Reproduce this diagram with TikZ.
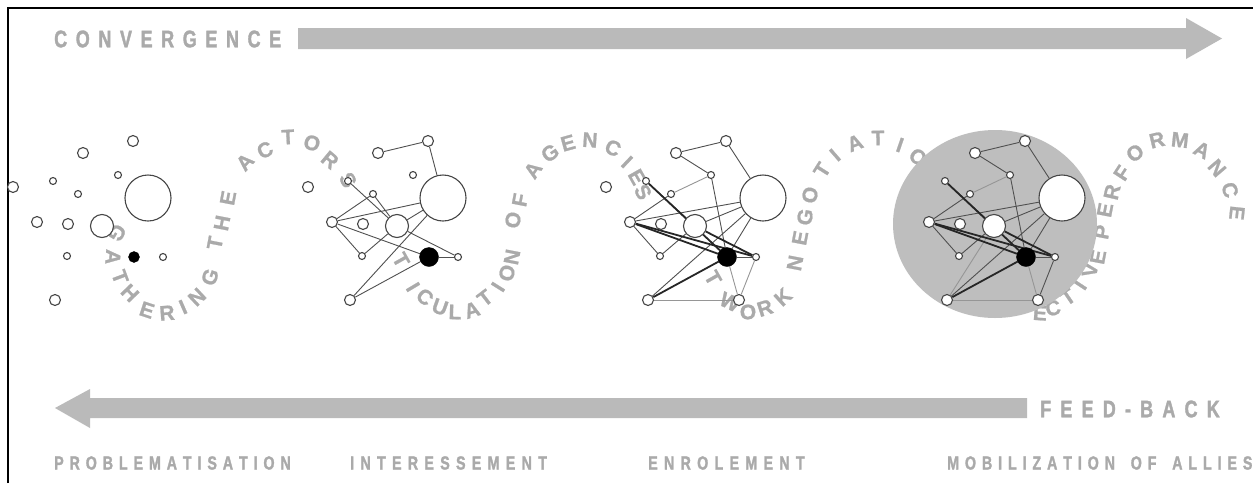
\documentclass[tikz,border=0pt]{standalone}
\usepackage{fontspec}
\setmainfont{Liberation Sans}
\newfontfamily\labfont{Liberation Sans Bold}[FakeStretch=0.75,FakeBold=1.5]
\newfontfamily\curvfont{Liberation Sans Bold}[FakeBold=1]
\usetikzlibrary{calc}
\pgfdeclarelayer{bg}
\pgfdeclarelayer{edges}
\pgfsetlayers{bg,edges,main}
\definecolor{txtgray}{RGB}{170,170,170}
\definecolor{arrgray}{RGB}{186,186,186}
\definecolor{diskgray}{RGB}{190,190,190}
\definecolor{ndline}{RGB}{70,70,70}
\definecolor{edline}{RGB}{80,80,80}
\definecolor{edlight}{RGB}{150,150,150}
\newlength\trkamt
\def\trk#1{\trkloop#1\relax}
\def\trkloop#1{\ifx#1\relax\else#1\kern\trkamt\expandafter\trkloop\fi}
\newcounter{lc}
\newcommand\TL[4]{%
 \pgfmathsetmacro\mycx{163+293.5*#1}%
 \pgfmathsetmacro\myang{atan2(261-#3,#2-\mycx)}%
 \pgfmathsetmacro\myang{\myang<90 ? \myang+360 : \myang}%
 \pgfmathsetmacro\mylo{#1==0 ? 140 : 209.3}%
 \pgfmathsetmacro\myang{max(\mylo,min(349.1,\myang))+90}%
 \stepcounter{lc}%
 \node[curv,rotate=\myang] (L\arabic{lc}) at (#2,#3) {#4};}
\newcommand\PL[4]{%
 \pgfmathsetmacro\mycx{292+293.5*#1}%
 \pgfmathsetmacro\myang{atan2(206-#3,#2-\mycx)}%
 \pgfmathsetmacro\myang{\myang<-90 ? \myang+360 : \myang}%
 \pgfmathsetmacro\mylo{#1==3 ? -40 : 29.3}%
 \pgfmathsetmacro\myang{max(\mylo,min(169.1,\myang))-90}%
 \stepcounter{lc}%
 \node[curv,rotate=\myang] (L\arabic{lc}) at (#2,#3) {#4};}
\newcommand\netnodes[4]{%
 \begin{scope}[shift={(#2,153)}]
 \node[nd=11pt] (#1n1) at (0,0) {};
 \node[nd=11pt] (#1n2) at (50,-12) {};
 \node[nd=46pt] (#1n3) at (#3,45) {};
 \node[nd=7pt] (#1n4) at (35,22) {};
 \node[nd=7pt] (#1n5) at (-30,28) {};
 \node[nd=7pt] (#1n6) at (-5,41) {};
 \node[nd=11pt] (#1n7) at (-46,69) {};
 \node[nd=11pt] (#1n8) at (-15,71) {};
 \node[nd=23pt] (#1n9) at (19,73) {};
 \node[nd=7pt] (#1n10) at (-16,103) {};
 \node[blk=#4] (#1n11) at (51,104) {};
 \node[nd=7pt] (#1n12) at (80,104) {};
 \node[nd=11pt] (#1n13) at (-28,147) {};
 \end{scope}}
\begin{document}
\begin{tikzpicture}[x=1pt,y=-1pt,
  lab/.style={font=\labfont\fontsize{19}{19}\selectfont,text=txtgray,inner sep=0pt,anchor=west},
  biglab/.style={font=\labfont\fontsize{24}{24}\selectfont,text=txtgray,inner sep=0pt,anchor=west},
  curv/.style={font=\curvfont\fontsize{21}{21}\selectfont,text=txtgray,inner sep=0pt},
  nd/.style={circle,draw=ndline,line width=1.1pt,fill=white,inner sep=0pt,minimum size=#1},
  blk/.style={circle,draw=black,fill=black,inner sep=0pt,minimum size=#1},
  ed/.style={draw=edline,line width=0.9pt},
  edl/.style={draw=edlight,line width=0.9pt},
  edt/.style={draw=black!85,line width=1.8pt}]
\useasboundingbox (0,0) rectangle (1253,483);
\begin{pgfonlayer}{bg}
\fill[white] (0,0) rectangle (1253,483);
\end{pgfonlayer}
\draw[line width=1.2pt] (8,483) -- (8,8) -- (1253,8);
% arrows
\fill[arrgray] (298,28) -- (1186,28) -- (1186,18) -- (1222,38.5) -- (1186,59) -- (1186,49) -- (298,49) -- cycle;
\fill[arrgray] (1027,398) -- (90,398) -- (90,389) -- (55,408) -- (90,428) -- (90,418) -- (1027,418) -- cycle;
% straight labels
\node[biglab] (conv) at (54,39) {\setlength\trkamt{8.6pt}\trk{CONVERGENCE}};
\node[biglab] (feed) at (1040,409) {\setlength\trkamt{9.2pt}\trk{FEED-BACK}};
\node[lab] (prob) at (54,463) {\setlength\trkamt{5.9pt}\trk{PROBLEMATISATION}};
\node[lab] (inter) at (350,463) {\setlength\trkamt{6.3pt}\trk{INTERESSEMENT}};
\node[lab] (enrol) at (648,463) {\setlength\trkamt{6.3pt}\trk{ENROLEMENT}};
\node[lab] (mobil) at (947,463) {\setlength\trkamt{5.9pt}\trk{MOBILIZATION~OF~ALLIES}};
% curved text
\begin{pgfonlayer}{bg}
\TL0{117}{233}{G}\TL0{113}{257}{A}\TL0{120}{277}{T}\TL0{130}{293}{H}\TL0{147}{310}{E}\TL0{167}{313}{R}\TL0{183}{307}{I}\TL0{197}{297}{N}\TL0{210}{277}{G}
\TL0{215}{243}{T}\TL0{222}{223}{H}\TL0{228}{198}{E}
\PL0{245}{162}{A}\PL0{265}{150}{C}\PL0{288}{137}{T}\PL0{312}{143}{O}\PL0{330}{160}{R}\PL0{348}{180}{S}
\TL1{401}{260}{T}\TL1{413}{287}{I}\TL1{425}{297}{C}\TL1{440}{307}{U}\TL1{455}{312}{L}\TL1{472}{310}{A}\TL1{485}{298}{T}\TL1{498}{287}{I}\TL1{507}{273}{O}\TL1{512}{257}{N}
\TL1{513}{220}{O}\TL1{520}{200}{F}
\PL1{533}{170}{A}\PL1{550}{153}{G}\PL1{568}{143}{E}\PL1{590}{140}{N}\PL1{613}{148}{C}\PL1{627}{162}{I}\PL1{637}{177}{E}\PL1{643}{192}{S}
\TL2{713}{278}{T}\TL2{730}{302}{W}\TL2{748}{312}{O}\TL2{765}{308}{R}\TL2{783}{297}{K}
\TL2{795}{263}{N}\TL2{800}{238}{E}\TL2{805}{217}{G}\TL2{810}{195}{O}
\PL2{822}{170}{T}\PL2{835}{155}{I}\PL2{855}{143}{A}\PL2{878}{138}{T}\PL2{900}{145}{I}\PL2{918}{157}{O}
\TL3{1040}{313}{E}\TL3{1053}{308}{C}\TL3{1068}{297}{T}\TL3{1080}{285}{I}\TL3{1090}{270}{V}\TL3{1098}{257}{E}
\PL3{1102}{232}{P}\PL3{1105}{210}{E}\PL3{1112}{192}{R}\PL3{1122}{173}{F}\PL3{1135}{153}{O}\PL3{1157}{140}{R}\PL3{1180}{140}{M}\PL3{1202}{150}{A}\PL3{1217}{168}{N}\PL3{1230}{190}{C}\PL3{1237}{213}{E}
\fill[diskgray] (995,224) ellipse[x radius=102,y radius=94];
\end{pgfonlayer}
% networks
\netnodes{a}{83}{65}{11pt}
\node[nd=11pt] (an14) at (13,187) {};
\netnodes{b}{378}{65}{19pt}
\node[nd=11pt] (bn14) at (308,187) {};
\netnodes{c}{676}{87}{19pt}
\node[nd=11pt] (cn14) at (606,187) {};
\node[nd=11pt] (cn15) at (739,300) {};
\netnodes{d}{975}{87}{19pt}
\node[nd=11pt] (dn15) at (1038,300) {};
\begin{pgfonlayer}{edges}
\foreach \p/\q in {1/2,2/3,5/9,6/7,6/9,7/10,10/9,7/3,7/11,9/3,9/12,3/13,13/11,11/12}
  \draw[ed] (bn\p) -- (bn\q);
\foreach \p/\q in {1/2,2/3,1/4,4/11,5/9,6/7,7/10,10/9,7/3,9/3,3/11,3/13,11/12}
  \draw[ed] (cn\p) -- (cn\q);
\foreach \p/\q in {4/6,13/15,11/15,12/15}
  \draw[edl] (cn\p) -- (cn\q);
\foreach \p/\q in {5/11,7/11,7/12,9/12,13/11}
  \draw[edt] (cn\p) -- (cn\q);
\foreach \p/\q in {1/2,2/3,1/4,4/11,5/9,6/7,7/10,10/9,7/3,9/3,3/11,3/13,11/12,12/15}
  \draw[ed] (dn\p) -- (dn\q);
\foreach \p/\q in {4/6,13/15,11/15,13/9}
  \draw[edl] (dn\p) -- (dn\q);
\foreach \p/\q in {5/11,7/11,7/12,9/12,13/11}
  \draw[edt] (dn\p) -- (dn\q);
\end{pgfonlayer}
\end{tikzpicture}
\end{document}
